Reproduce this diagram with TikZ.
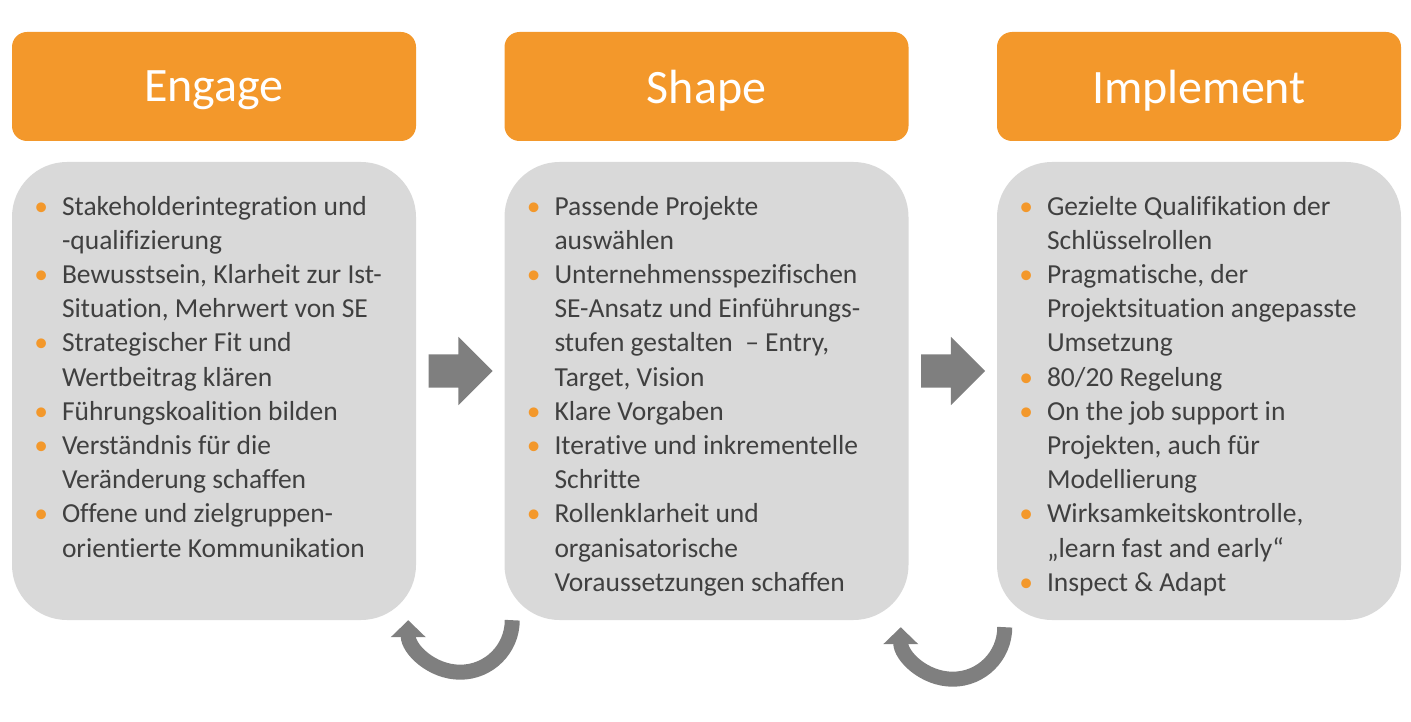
\documentclass[tikz,border=0pt]{standalone}
\usepackage{fontspec}
\setmainfont{Carlito}[Ligatures=NoCommon]
\usepackage{tikz}
\usetikzlibrary{positioning,arrows.meta,shapes.arrows,calc}

\definecolor{sorange}{RGB}{243,152,43}
\definecolor{sgrey}{RGB}{217,217,217}
\definecolor{stext}{RGB}{64,64,64}
\definecolor{sarrow}{RGB}{127,127,127}
\newcommand{\bul}{\llap{\textcolor{sorange}{\textbullet}\hspace{14pt}}}
\newcommand{\hdtext}[1]{\raisebox{-4pt}[\height][\depth]{#1}}

\begin{document}
\begin{tikzpicture}[x=1pt, y=1pt,
  hdr/.style={fill=sorange, rounded corners=15pt, minimum width=404pt,
    minimum height=109pt, text=white, font=\fontsize{48}{56}\selectfont},
  card/.style={fill=sgrey, rounded corners=55pt, minimum width=404pt,
    minimum height=458pt},
  txt/.style={anchor=north west, inner sep=0pt, align=left, text=stext,
    font=\fontsize{27.5}{34.2}\selectfont},
  fwd/.style={single arrow, fill=sarrow, inner xsep=0pt, inner ysep=16.5pt,
    text height=0pt, text depth=0pt, text width=0pt, minimum height=64pt,
    single arrow head extend=17.5pt, single arrow head indent=0pt},
  loop/.style={draw=sarrow, line width=15pt,
    -{Triangle[length=17pt, width=34pt]}}]
  \useasboundingbox (0,0) rectangle (1411,-722);
  % headers
  \node[hdr] (enghd) at (214,-86.5) {\hdtext{Engage}};
  \node[hdr] (shphd) at (706.5,-86.5) {\hdtext{Shape}};
  \node[hdr] (imphd) at (1199,-86.5) {\hdtext{Implement}};
  % cards
  \node[card] (engbox) at (214,-391) {};
  \node[card] (shpbox) at (706.5,-391) {};
  \node[card] (impbox) at (1199,-391) {};
  % card texts
  \node[txt] (engtxt) at ([xshift=50pt, yshift=-34pt]engbox.north west)
    {\bul Stakeholderintegration und\\ -qualifizierung\\
     \bul Bewusstsein, Klarheit zur Ist-\\ Situation, Mehrwert von SE\\
     \bul Strategischer Fit und\\ Wertbeitrag klären\\
     \bul Führungskoalition bilden\\
     \bul Verständnis für die\\ Veränderung schaffen\\
     \bul Offene und zielgruppen-\\ orientierte Kommunikation};
  \node[txt] (shptxt) at ([xshift=50pt, yshift=-34pt]shpbox.north west)
    {\bul Passende Projekte\\ auswählen\\
     \bul Unternehmensspezifischen\\ SE-Ansatz und Einführungs-\\
     stufen gestalten~~– Entry,\\ Target, Vision\\
     \bul Klare Vorgaben\\
     \bul Iterative und inkrementelle\\ Schritte\\
     \bul Rollenklarheit und\\ organisatorische\\ Voraussetzungen schaffen};
  \node[txt] (imptxt) at ([xshift=50pt, yshift=-34pt]impbox.north west)
    {\bul Gezielte Qualifikation der\\ Schlüsselrollen\\
     \bul Pragmatische, der\\ Projektsituation angepasste\\ Umsetzung\\
     \bul 80/20 Regelung\\
     \bul On the job support in\\ Projekten, auch für\\ Modellierung\\
     \bul Wirksamkeitskontrolle,\\ „learn fast and early“\\
     \bul Inspect \& Adapt};
  % forward arrows
  \node[fwd] (go1) at ($(engbox.east)!0.5!(shpbox.west)+(-8,20)$) {};
  \node[fwd] (go2) at ($(shpbox.east)!0.5!(impbox.west)+(-8,20)$) {};
  % feedback loops
  \coordinate (c1) at ($(engbox.south east)!0.5!(shpbox.south west)$);
  \coordinate (c2) at ($(shpbox.south east)!0.5!(impbox.south west)+(0,-7)$);
  \draw[loop] ($(c1)+(52,0)$) arc[start angle=0, end angle=-180, radius=52];
  \draw[loop] ($(c2)+(52,0)$) arc[start angle=0, end angle=-180, radius=52];
\end{tikzpicture}
\end{document}
